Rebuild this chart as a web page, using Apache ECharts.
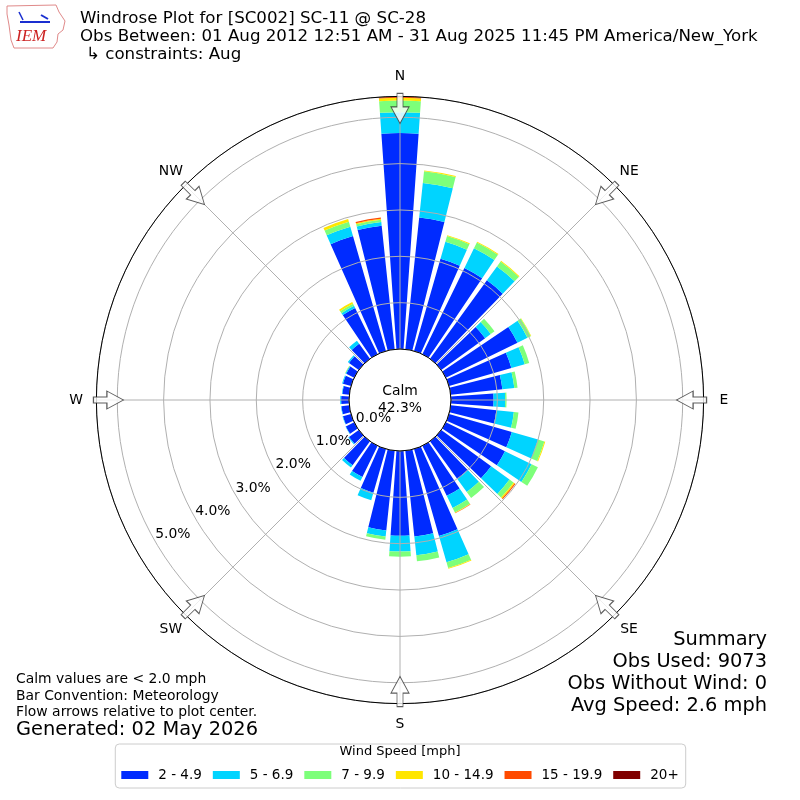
<!DOCTYPE html>
<html>
<head>
<meta charset="utf-8">
<script src="https://cdn.jsdelivr.net/npm/echarts@6/dist/echarts.min.js"></script>
<style>
html, body { margin: 0; padding: 0; background: #fff; }
#box1 { width: 800px; height: 800px; }
</style>
</head>
<body>
<div id="box1"></div>
<script>
var myChart = echarts.init(document.getElementById('box1'));

// direction bins (degrees, meteorological: where the wind comes from)
var directions = [0, 10, 20, 30, 40, 50, 60, 70, 80, 90, 100, 110, 120, 130, 140, 150, 160, 170,
    180, 190, 200, 210, 220, 230, 240, 250, 260, 270, 280, 290, 300, 310, 320, 330, 340, 350];

// frequency (%) of each speed class per direction bin
var s2to5 = [4.66, 2.86, 2.07, 2.07, 2.09, 1.17, 1.72, 1.40, 1.12, 0.92, 0.99, 1.41, 1.42, 1.33, 1.01, 1.20, 1.95, 1.86,
    1.83, 1.73, 0.98, 0.75, 0.64, 0.26, 0.20, 0.18, 0.17, 0.17, 0.15, 0.18, 0.19, 0.26, 0.40, 1.11, 2.58, 2.68];
var s5to7 = [0.45, 0.75, 0.38, 0.47, 0.37, 0.15, 0.24, 0.30, 0.26, 0.25, 0.38, 0.59, 0.64, 0.49, 0.34, 0.29, 0.59, 0.41,
    0.34, 0.13, 0.17, 0.09, 0.06, 0.02, 0.01, 0.01, 0.01, 0.02, 0.01, 0.02, 0.02, 0.03, 0.08, 0.05, 0.21, 0.08];
var s7to10 = [0.25, 0.25, 0.13, 0.14, 0.13, 0.10, 0.08, 0.10, 0.07, 0.03, 0.10, 0.14, 0.15, 0.11, 0.16, 0.11, 0.13, 0.13,
    0.11, 0.07, 0, 0, 0, 0, 0, 0, 0, 0, 0, 0, 0.005, 0, 0, 0.05, 0.11, 0.05];
var s10to15 = [0.06, 0.02, 0.02, 0.02, 0.02, 0, 0.01, 0, 0, 0, 0, 0.02, 0, 0.03, 0, 0.01, 0.02, 0,
    0, 0, 0, 0, 0, 0, 0, 0, 0, 0, 0, 0, 0.005, 0, 0, 0.04, 0.06, 0.02];
var s15to20 = [0.03, 0, 0, 0, 0, 0, 0, 0, 0, 0, 0, 0, 0, 0.02, 0, 0.01, 0, 0,
    0, 0, 0, 0, 0, 0, 0, 0, 0, 0, 0, 0, 0, 0, 0, 0, 0, 0.03];
var s20up = [0, 0, 0, 0, 0, 0, 0, 0, 0, 0, 0, 0, 0, 0, 0, 0, 0, 0,
    0, 0, 0, 0, 0, 0, 0, 0, 0, 0, 0, 0, 0, 0, 0, 0, 0, 0];

var speedBins = ['2 - 4.9', '5 - 6.9', '7 - 9.9', '10 - 14.9', '15 - 19.9', '20+'];
var speedColors = ['#002bff', '#00d4ff', '#7dff7a', '#ffe600', '#ff4a00', '#800000'];
var speedData = [s2to5, s5to7, s7to10, s10to15, s15to20, s20up];

var compassAngles = [0, 45, 90, 135, 180, 225, 270, 315];
var compassNames = ['N', 'NE', 'E', 'SE', 'S', 'SW', 'W', 'NW'];
var radiusTicks = [0, 1, 2, 3, 4, 5];

var calmPct = '42.3%';
var rMax = 5.45;
var arrowR = 5.19;

var FONT = 'DejaVu Sans';
var center = [400, 400];
var radius = [51, 303.6];
var labelDist = 324;

var series = speedBins.map(function (name, i) {
    return {
        name: name,
        type: 'bar',
        coordinateSystem: 'polar',
        polarIndex: 0,
        stack: 'wind',
        barCategoryGap: '20%',
        silent: true,
        itemStyle: { color: speedColors[i] },
        data: speedData[i]
    };
});

// hollow flow arrows on the rim, pointing to the centre
series.push({
    type: 'scatter',
    coordinateSystem: 'polar',
    polarIndex: 1,
    silent: true,
    z: 5,
    symbol: 'path://M-3,0 L3,0 L3,13 L9,13 L0,29 L-9,13 L-3,13 Z',
    symbolSize: [18, 30],
    itemStyle: { color: '#ffffff', borderColor: '#333333', borderWidth: 1 },
    data: compassAngles.map(function (a) {
        return { value: [arrowR, a], symbolRotate: -a };
    })
});

function txt(x, y, s, size, align, extra) {
    return {
        type: 'text', x: x, y: y, z: 10,
        style: {
            text: s,
            font: (extra || '') + size + 'px "DejaVu Sans"',
            fill: '#000',
            align: align || 'left',
            verticalAlign: 'middle'
        }
    };
}

var graphics = [
    // rough IEM logo
    {
        type: 'polygon',
        shape: { points: [[7, 6], [56, 5], [59, 12], [65, 21], [63, 30], [58, 34], [57, 42], [53, 48], [14, 48], [11, 40], [9, 25], [7, 14]] },
        style: { fill: 'none', stroke: '#e08a8a', lineWidth: 1 }
    },
    { type: 'line', shape: { x1: 20, y1: 22, x2: 50, y2: 22 }, style: { stroke: '#1a2fd0', lineWidth: 2 } },
    { type: 'line', shape: { x1: 19, y1: 12, x2: 23, y2: 20 }, style: { stroke: '#1a2fd0', lineWidth: 1.5 } },
    { type: 'line', shape: { x1: 41, y1: 15, x2: 48, y2: 19 }, style: { stroke: '#1a2fd0', lineWidth: 2 } },
    { type: 'text', x: 16, y: 37, style: { text: 'IEM', font: 'italic 17px "Liberation Serif"', fill: '#cc2222', verticalAlign: 'middle' } },
    // titles
    txt(80, 19, 'Windrose Plot for [SC002] SC-11 @ SC-28', 16.67),
    txt(80, 37, 'Obs Between: 01 Aug 2012 12:51 AM - 31 Aug 2025 11:45 PM America/New_York', 16.67),
    txt(86, 55, '\u21b3 constraints: Aug', 16.67),
    // calm
    txt(400, 391, 'Calm', 13.9, 'center'),
    txt(400, 408, calmPct, 13.9, 'center'),
    // summary
    txt(767, 640, 'Summary', 19.4, 'right'),
    txt(767, 662, 'Obs Used: 9073', 19.4, 'right'),
    txt(767, 684, 'Obs Without Wind: 0', 19.4, 'right'),
    txt(767, 706, 'Avg Speed: 2.6 mph', 19.4, 'right'),
    // notes
    txt(16, 679, 'Calm values are < 2.0 mph', 13.9),
    txt(16, 696, 'Bar Convention: Meteorology', 13.9),
    txt(16, 712, 'Flow arrows relative to plot center.', 13.9),
    txt(16, 730, 'Generated: 02 May 2026', 19.4),
    // legend title
    txt(400, 752, 'Wind Speed [mph]', 13, 'center')
];

// compass labels around the rim
compassAngles.forEach(function (a, i) {
    var rad = a * Math.PI / 180;
    graphics.push(txt(center[0] + labelDist * Math.sin(rad), center[1] - labelDist * Math.cos(rad),
        compassNames[i], 13.9, 'center'));
});

option = {
    animation: false,
    backgroundColor: '#ffffff',
    polar: [
        { center: center, radius: radius },
        { center: center, radius: radius },
        { center: center, radius: radius }
    ],
    angleAxis: [
        {
            polarIndex: 0,
            type: 'category',
            data: directions,
            startAngle: 95,
            clockwise: true,
            show: false
        },
        {
            polarIndex: 1,
            type: 'value',
            min: 0,
            max: 360,
            interval: 45,
            startAngle: 90,
            clockwise: true,
            z: 3,
            axisLine: { lineStyle: { color: '#000', width: 1 } },
            axisTick: { show: false },
            axisLabel: { show: false },
            splitLine: { lineStyle: { color: '#b0b0b0', width: 1 } }
        },
        {
            polarIndex: 2,
            type: 'value',
            min: 0,
            max: 360,
            startAngle: 210,
            show: false
        }
    ],
    radiusAxis: [
        { polarIndex: 0, min: 0, max: rMax, show: false },
        {
            polarIndex: 1,
            min: 0,
            max: rMax,
            interval: 1,
            z: 3,
            axisLine: { show: false },
            axisTick: { show: false },
            axisLabel: { show: false },
            splitLine: { lineStyle: { color: '#b0b0b0', width: 1 } }
        },
        {
            polarIndex: 2,
            min: 0,
            max: rMax,
            interval: 1,
            axisLine: { show: false },
            axisTick: { show: false },
            splitLine: { show: false },
            axisLabel: {
                margin: 0,
                align: 'left',
                verticalAlign: 'bottom',
                fontSize: 13.9,
                fontFamily: FONT,
                color: '#000',
                formatter: function (v) {
                    return radiusTicks.indexOf(v) >= 0 ? v.toFixed(1) + '%' : '';
                }
            }
        }
    ],
    legend: {
        data: speedBins,
        bottom: 12,
        left: 'center',
        icon: 'rect',
        itemWidth: 27,
        itemHeight: 8,
        itemGap: 11,
        padding: [24, 7, 6, 6],
        borderColor: '#cccccc',
        borderWidth: 1,
        borderRadius: 4,
        selectedMode: false,
        textStyle: { fontSize: 13.5, fontFamily: FONT, color: '#000', padding: [0, 0, 0, 5] }
    },
    graphic: graphics,
    series: series
};

myChart.setOption(option);
</script>
</body>
</html>
